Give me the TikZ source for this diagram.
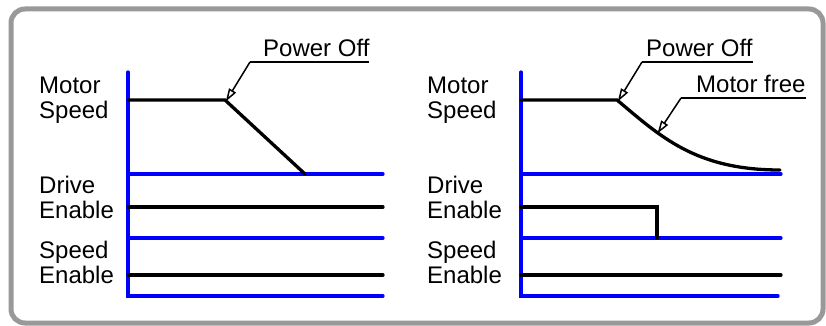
\documentclass[tikz,border=0pt]{standalone}
\usepackage{fontspec}
\setmainfont{Liberation Sans}
\usetikzlibrary{arrows.meta}
\definecolor{axisblue}{RGB}{0,0,255}
\definecolor{rimgray}{RGB}{153,153,153}
\begin{document}
\begin{tikzpicture}[x=1pt,y=-1pt,
  axis/.style={draw=axisblue, line width=3.2pt, line cap=round, line join=miter},
  sig/.style={draw=black, line width=3.3pt, line cap=round, line join=miter},
  lead/.style={draw=black, line width=1.5pt, -{Triangle[open,length=13pt,width=8pt,fill=white]}},
  uline/.style={draw=black, line width=1.3pt},
  lbl/.style={inner sep=0pt, align=left, anchor=base west, font=\fontsize{24}{24.5}\selectfont},
  ann/.style={inner sep=0pt, anchor=base west, font=\fontsize{24}{24.5}\selectfont}
]
\useasboundingbox (0,0) rectangle (826,326);
\draw[rimgray, line width=5pt, rounded corners=14pt] (11,9) rectangle (823,323);

% ---------- left panel ----------
\node[lbl] (lms) at (39,118) {Motor\\Speed};
\node[lbl] (lde) at (39,218) {Drive\\Enable};
\node[lbl] (lse) at (39,283) {Speed\\Enable};

\coordinate (LaxT) at (128,72);
\coordinate (LaxB) at (128,296);
\coordinate (LbE) at (383,296);
\draw[axis] (LaxT) -- (LaxB) -- (LbE);
\draw[axis] (128,174) -- (383,174);
\draw[axis] (128,238) -- (383,238);

\coordinate (Loff) at (225,100);
\draw[sig] (128,100) -- (Loff) -- (305,174);
\draw[sig] (128,207) -- (383,207);
\draw[sig] (128,275) -- (383,275);

\node[ann] (lpo) at (263,57) {Power Off};
\coordinate (LpoU) at (250,62);
\draw[uline] (LpoU) -- (369,62);
\draw[lead] (LpoU) -- ([xshift=0.8pt,yshift=-1.5pt]Loff);

% ---------- right panel ----------
\node[lbl] (rms) at (427,118) {Motor\\Speed};
\node[lbl] (rde) at (427,218) {Drive\\Enable};
\node[lbl] (rse) at (427,283) {Speed\\Enable};

\coordinate (RaxT) at (521,72);
\coordinate (RaxB) at (521,296);
\coordinate (RbE) at (778,296);
\draw[axis] (RaxT) -- (RaxB) -- (RbE);
\draw[axis] (521,174) -- (781,174);
\draw[axis] (521,238) -- (781,238);

\coordinate (Roff) at (617,100);
\coordinate (Rfree) at (657,132);
\draw[sig] (521,100) -- (Roff) .. controls (660,136) and (695,170) .. (780,170);
\draw[sig] (521,207) -- (657,207) -- (657,238);
\draw[sig] (521,275) -- (781,275);

\node[ann] (rpo) at (646,57) {Power Off};
\coordinate (RpoU) at (642,62);
\draw[uline] (RpoU) -- (753,62);
\draw[lead] (RpoU) -- ([xshift=0.8pt,yshift=-1.5pt]Roff);

\node[ann] (rmf) at (696,93) {Motor free};
\coordinate (RmfU) at (681,98);
\draw[uline] (RmfU) -- (806,98);
\draw[lead] (RmfU) -- ([xshift=0.5pt,yshift=-1.5pt]Rfree);
\end{tikzpicture}
\end{document}
